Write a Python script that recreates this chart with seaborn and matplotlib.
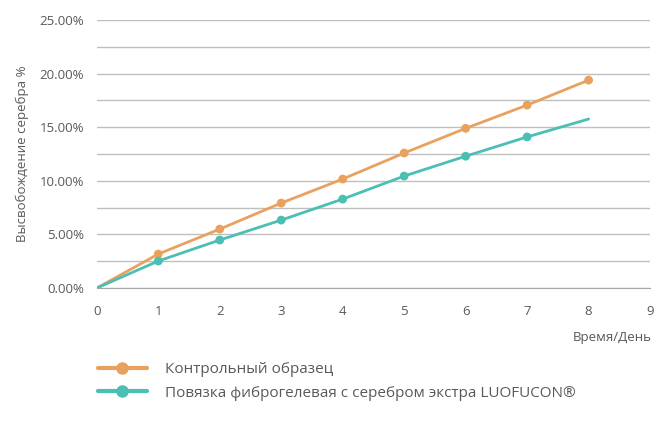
import pandas as pd
import numpy as np
import matplotlib
matplotlib.use('Agg')
import matplotlib.pyplot as plt
import seaborn as sns
from matplotlib.ticker import FuncFormatter, MultipleLocator

# Data (percent release of silver per day)
days = [0, 1, 2, 3, 4, 5, 6, 7, 8]
control = [0.0, 3.17, 5.5, 7.93, 10.17, 12.6, 14.9, 17.07, 19.4]
luofucon = [0.0, 2.52, 4.48, 6.34, 8.3, 10.45, 12.3, 14.1, 15.77]
series_names = ['Контрольный образец', 'Повязка фиброгелевая с серебром экстра LUOFUCON®']
colors = ['#E9A15E', '#4BBFB4']

df = pd.DataFrame({
    'day': days * 2,
    'value': control + luofucon,
    'series': [series_names[0]] * len(days) + [series_names[1]] * len(days),
})

sns.set_style('white')
plt.rcParams['font.family'] = ['Open Sans', 'DejaVu Sans']

fig = plt.figure(figsize=(6.54, 4.28), dpi=100)
ax = fig.add_axes([0.148, 0.327, 0.846, 0.626])

# lines, then markers (no marker at day 0, none on the last teal point)
sns.lineplot(data=df, x='day', y='value', hue='series', palette=colors,
             linewidth=2, ax=ax, legend=False, zorder=3)
mk = df[(df['day'] > 0) & ~((df['series'] == series_names[1]) & (df['day'] == 8))]
sns.scatterplot(data=mk, x='day', y='value', hue='series', palette=colors,
                s=40, edgecolor='none', ax=ax, legend=False, zorder=4)

ax.set_xlim(0, 9)
ax.set_ylim(0, 25)
ax.xaxis.set_major_locator(MultipleLocator(1))
ax.yaxis.set_major_locator(MultipleLocator(5))
ax.yaxis.set_minor_locator(MultipleLocator(2.5))
ax.yaxis.set_major_formatter(FuncFormatter(lambda v, p: f'{v:.2f}%'))
ax.grid(True, which='both', axis='y', color='#BFBFBF', linewidth=1)
ax.set_axisbelow(True)
for s in ['top', 'right', 'left']:
    ax.spines[s].set_visible(False)
ax.spines['bottom'].set_color('#A6A6A6')
ax.tick_params(axis='both', which='both', length=0, labelsize=9.5, colors='#595959')
ax.tick_params(axis='x', pad=12)
ax.tick_params(axis='y', pad=9)

ax.set_xlabel('')
ax.set_ylabel('Высвобождение серебра %', fontsize=9.5, color='#595959', labelpad=8)
fig.text(0.997, 0.212, 'Время/День', ha='right', va='center', fontsize=9.5, color='#595959')

handles = [plt.Line2D([], [], color=c, lw=3, marker='o', markersize=8) for c in colors]
fig.legend(handles, series_names, loc='upper left', bbox_to_anchor=(0.14, 0.168),
           frameon=False, fontsize=11, labelcolor='#595959', handlelength=3.2,
           handletextpad=1.2, labelspacing=0.55, borderaxespad=0)

fig.savefig('out.png', dpi=100)
